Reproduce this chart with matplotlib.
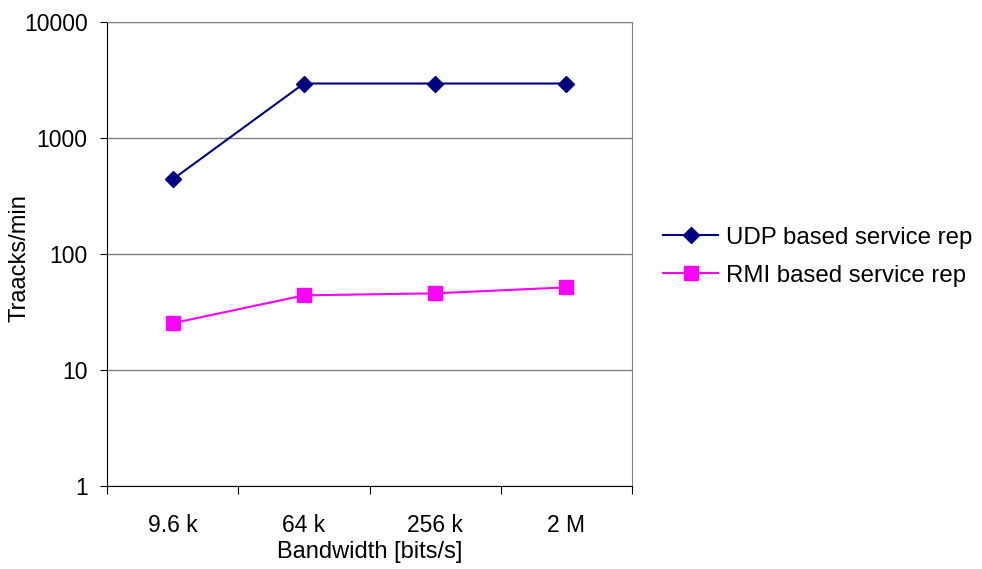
import matplotlib
matplotlib.use("Agg")
import matplotlib.pyplot as plt

plt.rcParams['font.family'] = ['Liberation Sans', 'DejaVu Sans']

# data
categories = ["9.6 k", "64 k", "256 k", "2 M"]
udp_rate = [440, 2950, 2950, 2950]
rmi_rate = [25.3, 44, 45.8, 51.6]

fig = plt.figure(figsize=(9.82, 5.69), dpi=100)
ax = fig.add_axes([0.109, 0.1459, 0.5346, 0.8154])

x = list(range(len(categories)))
ax.plot(x, udp_rate, color='#000080', marker='D', markersize=8, linewidth=1.5,
        label='UDP based service rep')
ax.plot(x, rmi_rate, color='#FF00FF', marker='s', markersize=9.5, linewidth=1.5,
        label='RMI based service rep')

ax.set_yscale('log')
ax.set_ylim(1, 10000)
ax.set_xlim(-0.5, 3.5)
ax.set_yticks([1, 10, 100, 1000, 10000])
ax.set_yticklabels(['1', '10', '100', '1000', '10000'])
ax.minorticks_off()
ax.yaxis.grid(True, color='#808080', linewidth=1)
ax.set_axisbelow(True)

# category labels sit between the boundary ticks
ax.set_xticks([-0.5, 0.5, 1.5, 2.5, 3.5])
ax.set_xticklabels([])
ax.set_xticks(x, minor=True)
ax.set_xticklabels(categories, minor=True)
ax.tick_params(axis='x', which='major', direction='out', length=6, color='black')
ax.tick_params(axis='x', which='minor', length=0, pad=20, labelsize=16.5)
ax.tick_params(axis='y', direction='out', length=5, labelsize=16.5, pad=9)

for side in ['top', 'right']:
    ax.spines[side].set_color('#808080')
ax.spines['left'].set_color('black')
ax.spines['bottom'].set_color('black')

ax.set_xlabel('Bandwidth [bits/s]', fontsize=17, labelpad=3)
ax.set_ylabel('Traacks/min', fontsize=17)
ax.yaxis.set_label_coords(-0.145, 0.491)

fig.legend(loc='center left', bbox_to_anchor=(0.6752, 0.549), frameon=False,
           fontsize=17.3, handlelength=2.3, handletextpad=0.3, labelspacing=0.66,
           borderpad=0, borderaxespad=0)

fig.savefig('out.png', dpi=100, facecolor='white')
